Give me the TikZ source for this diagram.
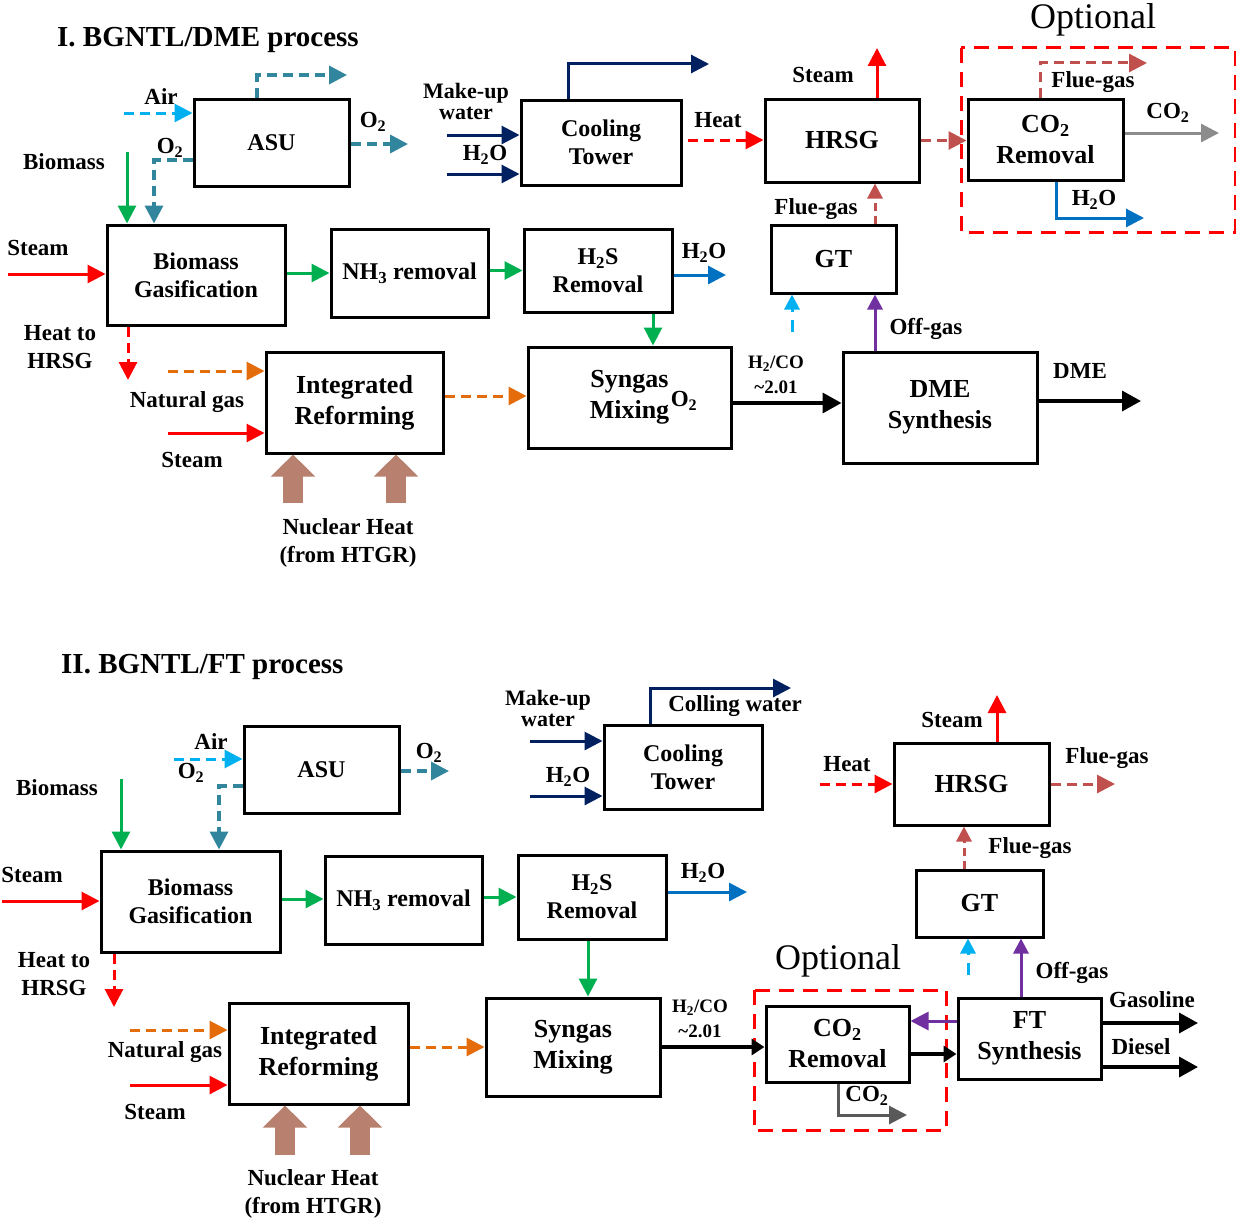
\documentclass[tikz,border=0pt]{standalone}
\usepackage{fontspec}
\setmainfont{Liberation Serif}
\usetikzlibrary{arrows.meta}
\definecolor{cRed}{HTML}{FF0000}
\definecolor{cGreen}{HTML}{00B050}
\definecolor{cSky}{HTML}{00B0F0}
\definecolor{cTeal}{HTML}{31859C}
\definecolor{cNavy}{HTML}{002060}
\definecolor{cBlue}{HTML}{0070C0}
\definecolor{cFlue}{HTML}{C0504D}
\definecolor{cGray}{HTML}{8C8C8C}
\definecolor{cDGray}{HTML}{595959}
\definecolor{cPurple}{HTML}{7030A0}
\definecolor{cOrange}{HTML}{E46C0A}
\definecolor{cNuc}{HTML}{B7806F}
\tikzset{
  box/.style={draw=black, line width=3pt, fill=white, align=center, inner sep=0pt,
    font=\bfseries\fontsize{24}{28}\selectfont},
  bigbox/.style={box, font=\bfseries\fontsize{26}{31}\selectfont},
  lbl/.style={inner sep=0pt, align=center, font=\bfseries\fontsize{23}{28}\selectfont},
  tightlbl/.style={lbl, font=\bfseries\fontsize{22}{21}\selectfont},
  slbl/.style={inner sep=0pt, align=center, font=\bfseries\fontsize{19}{25}\selectfont},
  titlelbl/.style={inner sep=0pt, anchor=west, font=\bfseries\fontsize{29}{34}\selectfont},
  optlbl/.style={inner sep=0pt, font=\fontsize{36}{40}\selectfont},
  optbox/.style={draw=cRed, line width=3pt, dash pattern=on 15pt off 9pt},
  flow/.style={line width=3pt, -{Triangle[length=18pt,width=18pt]}},
  bigflow/.style={line width=3.5pt, -{Triangle[length=19pt,width=20pt]}},
  smallflow/.style={line width=3pt, -{Triangle[length=15pt,width=15pt]}},
  dsh/.style={dash pattern=on 10pt off 6pt},
  nuc/.style={draw=cNuc, line width=20pt, -{Triangle[length=22pt,width=43pt]}, cNuc},
}
\begin{document}
\begin{tikzpicture}[x=1pt, y=-1pt]
\useasboundingbox (0,0) rectangle (1236,1223);

%% ================= I. BGNTL/DME =================
\node[titlelbl] (title1) at (57,40) {I. BGNTL/DME process};

\node[box, minimum width=155pt, minimum height=87pt] (asu1) at (271.5,142.5) {ASU};
\node[box, minimum width=178pt, minimum height=100pt] (bg1) at (196,275) {Biomass\\Gasification};
\node[box, minimum width=157pt, minimum height=88pt] (nh31) at (409.5,273) {NH\textsubscript{3} removal};
\node[box, minimum width=160pt, minimum height=85pt] (ct1) at (601,142.5) {Cooling\\Tower};
\node[bigbox, minimum width=154pt, minimum height=83pt] (hrsg1) at (842,140.5) {HRSG};
\node[bigbox, minimum width=155pt, minimum height=81pt] (co21) at (1045.5,139.5) {CO\textsubscript{2}\\Removal};
\node[box, minimum width=148pt, minimum height=83pt] (h2s1) at (598,270.5) {H\textsubscript{2}S\\Removal};
\node[bigbox, minimum width=125pt, minimum height=68pt] (gt1) at (833.5,259) {GT};
\node[bigbox, minimum width=177pt, minimum height=101pt] (ir1) at (354.5,402.5) {Integrated\\Reforming};
\node[bigbox, minimum width=203pt, minimum height=101pt] (syn1) at (629.5,397.5) {Syngas\\Mixing};
\node[bigbox, minimum width=194pt, minimum height=111pt] (dme1) at (940,407.5) {DME\\Synthesis};
\node[lbl] (synO2) at (684,401) {O\textsubscript{2}};

\draw[optbox] (961,48) rectangle (1235,232);
\node[optlbl] (opt1) at (1093,20) {Optional};

% labels
\node[lbl] (lAir1) at (161,97) {Air};
\node[lbl] (lO2a1) at (170,148) {O\textsubscript{2}};
\node[lbl] (lO2b1) at (373,122) {O\textsubscript{2}};
\node[lbl] (lBio1) at (64,162) {Biomass};
\node[lbl] (lSt1) at (38,248) {Steam};
\node[lbl] (lHt1) at (60,347) {Heat to\\HRSG};
\node[tightlbl] (lMk1) at (466,101) {Make-up\\water};
\node[lbl] (lH2Oa1) at (485,155) {H\textsubscript{2}O};
\node[lbl] (lHeat1) at (718,120) {Heat};
\node[lbl] (lSt1b) at (823,75) {Steam};
\node[lbl] (lFg1a) at (1093,82) {Flue-gas};
\node[lbl] (lCO21) at (1168,113) {CO\textsubscript{2}};
\node[lbl] (lH2Ob1) at (1094,200) {H\textsubscript{2}O};
\node[lbl] (lFg1b) at (816,209) {Flue-gas};
\node[lbl] (lH2Oc1) at (704,253) {H\textsubscript{2}O};
\node[lbl] (lOff1) at (926,329) {Off-gas};
\node[lbl] (lNg1) at (187,402) {Natural gas};
\node[lbl] (lSt1c) at (192,460) {Steam};
\node[lbl] (lNuc1) at (348,543) {Nuclear Heat\\(from HTGR)};
\node[slbl] (lRat1) at (776,375) {H\textsubscript{2}/CO\\\textasciitilde2.01};
\node[lbl] (lDME1) at (1080,371) {DME};

% free ends
\coordinate (airS1) at (124,113);
\coordinate (o2k1) at (154,160);
\coordinate (topK1) at (257,75);
\coordinate (topE1) at (347,75);
\coordinate (o2E1) at (408,144);
\coordinate (bmS1) at (127,152);
\coordinate (stS1) at (8,274);
\coordinate (h2oE1) at (726,275);
\coordinate (htE1) at (128,380);
\coordinate (ngS1) at (168,371);
\coordinate (st2S1) at (168,433);
\coordinate (nucA1) at (293,503);
\coordinate (nucB1) at (396,503);
\coordinate (dmeE1) at (1141,401);
\coordinate (cyS1) at (792,332);
\coordinate (stE1) at (877,48);
\coordinate (heatS1) at (688,140);
\coordinate (fgK1) at (1040,63);
\coordinate (fgE1) at (1147,63);
\coordinate (co2E1) at (1219,133);
\coordinate (wK1) at (1056,218);
\coordinate (wE1) at (1144,218);
\coordinate (ctK1) at (568,64);
\coordinate (ctE1) at (709,64);
\coordinate (mkA1) at (447,135);
\coordinate (mkB1) at (447,174);

% connectors
\draw[flow, dsh, cSky] (airS1) -- (airS1 -| asu1.west);
\draw[flow, dsh, cTeal, line width=3.5pt] (o2k1 -| asu1.west) -- (o2k1) -- (o2k1 |- bg1.north);
\draw[flow, dsh, cTeal, line width=3.5pt] (topK1 |- asu1.north) -- (topK1) -- (topE1);
\draw[flow, dsh, cTeal, line width=3.5pt] (o2E1 -| asu1.east) -- (o2E1);
\draw[flow, cGreen] (bmS1) -- (bmS1 |- bg1.north);
\draw[flow, cRed] (stS1) -- (stS1 -| bg1.west);
\draw[flow, cGreen] (bg1.east |- nh31.west) -- (nh31.west);
\draw[flow, cGreen] (nh31.east |- h2s1.west) -- (h2s1.west);
\draw[flow, cBlue] (h2oE1 -| h2s1.east) -- (h2oE1);
\draw[flow, cGreen] (653,0 |- h2s1.south) -- (653,0 |- syn1.north);
\draw[flow, dsh, cRed] (htE1 |- bg1.south) -- (htE1);
\draw[flow, dsh, cOrange] (ngS1) -- (ngS1 -| ir1.west);
\draw[flow, cRed] (st2S1) -- (st2S1 -| ir1.west);
\draw[nuc] (nucA1) -- (nucA1 |- ir1.south);
\draw[nuc] (nucB1) -- (nucB1 |- ir1.south);
\draw[flow, dsh, cOrange] (ir1.east |- 0,396) -- (syn1.west |- 0,396);
\draw[bigflow, black] (syn1.east |- 0,403) -- (dme1.west |- 0,403);
\draw[bigflow, black] (dmeE1 -| dme1.east) -- (dmeE1);
\draw[smallflow, cPurple] (875,0 |- dme1.north) -- (875,0 |- gt1.south);
\draw[smallflow, cSky, dash pattern=on 12pt off 8pt] (cyS1) -- (cyS1 |- gt1.south);
\draw[smallflow, cFlue, dash pattern=on 8pt off 5pt] (875,0 |- gt1.north) -- (875,0 |- hrsg1.south);
\draw[flow, cRed] (stE1 |- hrsg1.north) -- (stE1);
\draw[flow, dsh, cRed] (heatS1) -- (heatS1 -| hrsg1.west);
\draw[flow, dsh, cFlue] (hrsg1.east) -- (hrsg1.east -| co21.west);
\draw[flow, dsh, cFlue] (fgK1 |- co21.north) -- (fgK1) -- (fgE1);
\draw[flow, cGray] (co2E1 -| co21.east) -- (co2E1);
\draw[flow, cBlue] (wK1 |- co21.south) -- (wK1) -- (wE1);
\draw[flow, cNavy] (ctK1 |- ct1.north) -- (ctK1) -- (ctE1);
\draw[flow, cNavy] (mkA1) -- (mkA1 -| ct1.west);
\draw[flow, cNavy] (mkB1) -- (mkB1 -| ct1.west);

%% ================= II. BGNTL/FT =================
\node[titlelbl] (title2) at (61,667) {II. BGNTL/FT process};

\node[box, minimum width=155pt, minimum height=87pt] (asu2) at (321.5,769.5) {ASU};
\node[box, minimum width=179pt, minimum height=101pt] (bg2) at (190.5,901.5) {Biomass\\Gasification};
\node[box, minimum width=157pt, minimum height=88pt] (nh32) at (403.5,900) {NH\textsubscript{3} removal};
\node[box, minimum width=148pt, minimum height=84pt] (h2s2) at (592,897) {H\textsubscript{2}S\\Removal};
\node[box, minimum width=158pt, minimum height=84pt] (ct2) at (683,767) {Cooling\\Tower};
\node[bigbox, minimum width=155pt, minimum height=82pt] (hrsg2) at (971.5,784) {HRSG};
\node[bigbox, minimum width=127pt, minimum height=67pt] (gt2) at (979.5,903.5) {GT};
\node[bigbox, minimum width=179pt, minimum height=101pt] (ir2) at (318.5,1053.5) {Integrated\\Reforming};
\node[bigbox, minimum width=174pt, minimum height=98pt] (syn2) at (573,1047) {Syngas\\Mixing};
\node[bigbox, minimum width=143pt, minimum height=76pt] (co22) at (837.5,1044) {CO\textsubscript{2}\\Removal};
\node[bigbox, minimum width=143pt, minimum height=81pt] (ft2) at (1029.5,1038.5) {FT\\Synthesis};

\draw[optbox] (754,990) rectangle (946,1130);
\node[optlbl] (opt2) at (838,961) {Optional};

\node[lbl] (lAir2) at (211,742) {Air};
\node[lbl] (lO2a2) at (191,773) {O\textsubscript{2}};
\node[lbl] (lO2b2) at (429,753) {O\textsubscript{2}};
\node[lbl] (lBio2) at (57,788) {Biomass};
\node[lbl] (lSt2) at (32,875) {Steam};
\node[lbl] (lHt2) at (54,974) {Heat to\\HRSG};
\node[tightlbl] (lMk2) at (548,708) {Make-up\\water};
\node[lbl] (lH2Oa2) at (568,777) {H\textsubscript{2}O};
\node[lbl] (lCw2) at (735,706) {Colling water};
\node[lbl] (lH2Ob2) at (703,873) {H\textsubscript{2}O};
\node[lbl] (lSt2b) at (952,720) {Steam};
\node[lbl] (lHeat2) at (847,764) {Heat};
\node[lbl] (lFg2a) at (1107,758) {Flue-gas};
\node[lbl] (lFg2b) at (1030,848) {Flue-gas};
\node[lbl] (lOff2) at (1072,973) {Off-gas};
\node[lbl] (lGas2) at (1152,1000) {Gasoline};
\node[lbl] (lDie2) at (1141,1047) {Diesel};
\node[lbl] (lCO22) at (867,1096) {CO\textsubscript{2}};
\node[slbl] (lRat2) at (700,1019) {H\textsubscript{2}/CO\\\textasciitilde2.01};
\node[lbl] (lNg2) at (165,1052) {Natural gas};
\node[lbl] (lSt2c) at (155,1112) {Steam};
\node[lbl] (lNuc2) at (313,1194) {Nuclear Heat\\(from HTGR)};

\coordinate (airS2) at (174,759);
\coordinate (o2k2) at (219,786);
\coordinate (o2E2) at (449,771);
\coordinate (bmS2) at (121,779);
\coordinate (stS2) at (2,901);
\coordinate (h2oE2) at (747,892);
\coordinate (mkA2) at (530,741);
\coordinate (mkB2) at (530,796);
\coordinate (ctK2) at (650,688);
\coordinate (ctE2) at (791,688);
\coordinate (htE2) at (114,1007);
\coordinate (ngS2) at (130,1030);
\coordinate (st2S2) at (130,1085);
\coordinate (nucA2) at (285,1155);
\coordinate (nucB2) at (360,1155);
\coordinate (co2K2) at (838,1115);
\coordinate (co2E2) at (907,1115);
\coordinate (gasE2) at (1198,1023);
\coordinate (dieE2) at (1198,1067);
\coordinate (cyS2) at (968,975);
\coordinate (stE2) at (997,695);
\coordinate (heatS2) at (820,784);
\coordinate (fgE2) at (1115,784);

\draw[flow, dsh, cSky] (airS2) -- (airS2 -| asu2.west);
\draw[flow, dsh, cTeal, line width=3.5pt] (o2k2 -| asu2.west) -- (o2k2) -- (o2k2 |- bg2.north);
\draw[flow, dsh, cTeal, line width=3.5pt] (o2E2 -| asu2.east) -- (o2E2);
\draw[flow, cGreen] (bmS2) -- (bmS2 |- bg2.north);
\draw[flow, cRed] (stS2) -- (stS2 -| bg2.west);
\draw[flow, cGreen] (bg2.east |- 0,899) -- (nh32.west |- 0,899);
\draw[flow, cGreen] (nh32.east |- 0,897) -- (h2s2.west |- 0,897);
\draw[flow, cBlue] (h2oE2 -| h2s2.east) -- (h2oE2);
\draw[flow, cGreen] (588,0 |- h2s2.south) -- (588,0 |- syn2.north);
\draw[flow, cNavy] (mkA2) -- (mkA2 -| ct2.west);
\draw[flow, cNavy] (mkB2) -- (mkB2 -| ct2.west);
\draw[flow, cNavy] (ctK2 |- ct2.north) -- (ctK2) -- (ctE2);
\draw[flow, dsh, cRed] (htE2 |- bg2.south) -- (htE2);
\draw[flow, dsh, cOrange] (ngS2) -- (ngS2 -| ir2.west);
\draw[flow, cRed] (st2S2) -- (st2S2 -| ir2.west);
\draw[nuc] (nucA2) -- (nucA2 |- ir2.south);
\draw[nuc] (nucB2) -- (nucB2 |- ir2.south);
\draw[flow, dsh, cOrange] (ir2.east |- 0,1047) -- (syn2.west |- 0,1047);
\draw[bigflow, black, -{Triangle[length=13pt,width=16pt]}] (syn2.east |- 0,1047) -- (co22.west |- 0,1047);
\draw[flow, cDGray] (co2K2 |- co22.south) -- (co2K2) -- (co2E2);
\draw[bigflow, black, -{Triangle[length=13pt,width=16pt]}] (co22.east |- 0,1054) -- (ft2.west |- 0,1054);
\draw[flow, cPurple] (ft2.west |- 0,1021) -- (co22.east |- 0,1021);
\draw[bigflow, black] (gasE2 -| ft2.east) -- (gasE2);
\draw[bigflow, black] (dieE2 -| ft2.east) -- (dieE2);
\draw[smallflow, cPurple] (1021,0 |- ft2.north) -- (1021,0 |- gt2.south);
\draw[smallflow, cSky, dash pattern=on 12pt off 8pt] (cyS2) -- (cyS2 |- gt2.south);
\draw[smallflow, cFlue, dash pattern=on 8pt off 5pt] (964,0 |- gt2.north) -- (964,0 |- hrsg2.south);
\draw[flow, cRed] (stE2 |- hrsg2.north) -- (stE2);
\draw[flow, dsh, cRed] (heatS2) -- (heatS2 -| hrsg2.west);
\draw[flow, dsh, cFlue] (hrsg2.east |- fgE2) -- (fgE2);
\end{tikzpicture}
\end{document}
